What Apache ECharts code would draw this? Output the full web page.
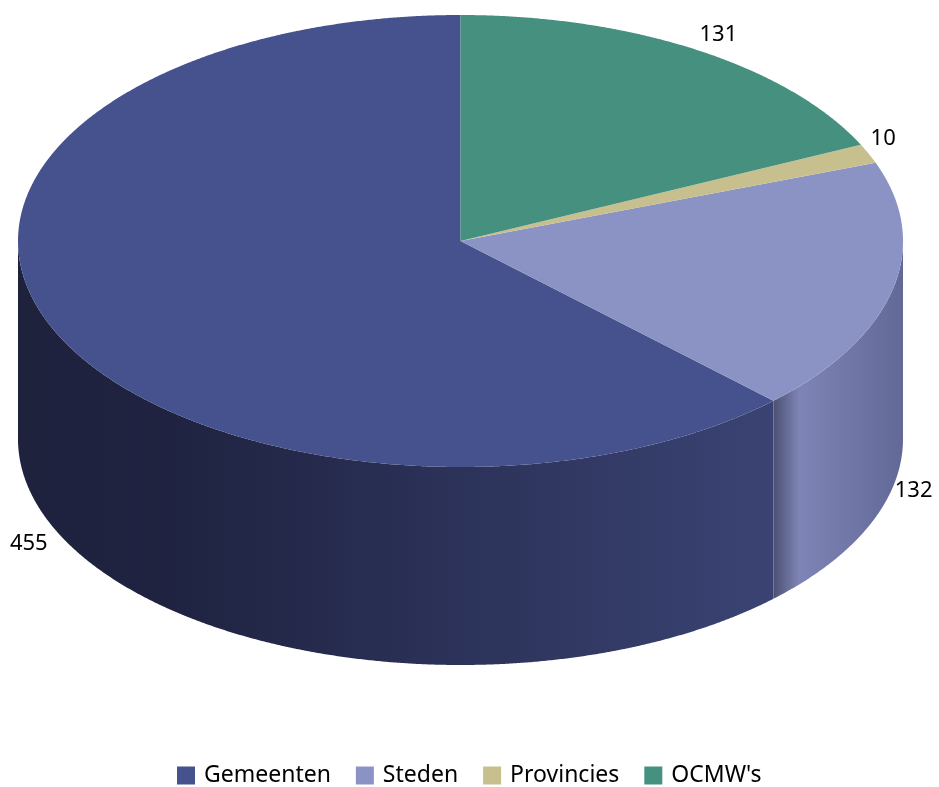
<!DOCTYPE html>
<html>
<head>
<meta charset="utf-8">
<script src="https://cdn.jsdelivr.net/npm/echarts@6/dist/echarts.min.js"></script>
<style>
  html, body { margin: 0; padding: 0; background: #fff; }
  #chart { width: 939px; height: 787px; }
</style>
</head>
<body>
<div id="chart"></div>
<script>
// Categories and counts (legend order)
const categories = ['Gemeenten', 'Steden', 'Provincies', "OCMW's"];
const values = [455, 132, 10, 131];

// Top-face colours and side-wall shading per category
const topColors = ['#45528e', '#8b93c4', '#c8bf8e', '#46907f'];
const sideStops = [
  [[0, '#1e223d'], [0.2, '#1f2341'], [1, '#3a4373']],
  [[0, '#4c5172'], [0.2, '#7e85b6'], [1, '#626997']],
  [[0, '#8f8860'], [1, '#a9a176']],
  [[0, '#2c5e52'], [1, '#3a7a6b']]
];

// Geometry of the tilted disc
const CX = 460.5, CY = 241, RX = 442.5, RY = 226, DEPTH = 198;
const K = RY / RX;

const total = values.reduce((a, b) => a + b, 0);

// Slices run clockwise from 12 o'clock in reverse legend order
const drawOrder = [3, 2, 1, 0];
const ranges = new Array(values.length);
let acc = 0;
drawOrder.forEach(i => { ranges[i] = [acc, acc + values[i]]; acc += values[i]; });

function renderSlice(params, api) {
  const i = params.seriesIndex;
  const a0 = api.value(0), a1 = api.value(1);
  const c = api.coord([0, 0]);
  const pt = (v, r) => {
    const p = api.coord([r, v]);
    return [p[0], c[1] + (p[1] - c[1]) * K];
  };
  const arc = (from, to) => {
    const n = Math.max(2, Math.ceil((to - from) / 0.5));
    const out = [];
    for (let s = 0; s <= n; s++) out.push(pt(from + (to - from) * s / n, 1));
    return out;
  };
  const children = [];

  // Outer wall for the part of the rim facing the viewer
  const f0 = Math.max(a0, total / 4), f1 = Math.min(a1, total * 3 / 4);
  if (f1 > f0) {
    const rim = arc(f0, f1);
    const lower = rim.slice().reverse().map(p => [p[0], p[1] + DEPTH]);
    const xs = rim.map(p => p[0]);
    const xMin = Math.min.apply(null, xs), xMax = Math.max.apply(null, xs);
    children.push({
      type: 'polygon',
      shape: { points: rim.concat(lower) },
      style: {
        fill: new echarts.graphic.LinearGradient(xMin, 0, xMax, 0,
          sideStops[i].map(s => ({ offset: s[0], color: s[1] })), true)
      }
    });
  }

  // Top face
  children.push({
    type: 'polygon',
    shape: { points: [[c[0], c[1]]].concat(arc(a0, a1)) },
    style: { fill: topColors[i] }
  });

  // Value label just outside the rim
  const mid = (a0 + a1) / 2;
  const theta = mid / total * Math.PI * 2;
  const p = pt(mid, 1);
  const front = mid > total / 4 && mid < total * 3 / 4;
  if (front) p[1] += DEPTH;
  const right = Math.sin(theta) >= 0;
  children.push({
    type: 'text',
    x: right ? p[0] + 2 : p[0] - 4,
    y: Math.cos(theta) > 0 ? p[1] - 15 : p[1] + (right ? 3 : 18),
    style: {
      text: String(values[i]),
      fill: '#000',
      font: '22px "Noto Sans"',
      align: right ? 'left' : 'right',
      verticalAlign: 'middle'
    }
  });

  return { type: 'group', children };
}

const chart = echarts.init(document.getElementById('chart'), null, { renderer: 'canvas' });

chart.setOption({
  animation: false,
  polar: { center: [CX, CY], radius: RX },
  angleAxis: { min: 0, max: total, startAngle: 90, clockwise: true, show: false },
  radiusAxis: { min: 0, max: 1, show: false },
  legend: {
    left: 172,
    top: 759,
    itemWidth: 18,
    itemHeight: 18,
    itemGap: 25,
    icon: 'rect',
    textStyle: { fontSize: 23, fontFamily: 'Noto Sans', color: '#000', padding: [0, 0, 0, 4] },
    data: categories
  },
  series: categories.map((name, i) => ({
    type: 'custom',
    name: name,
    coordinateSystem: 'polar',
    itemStyle: { color: topColors[i] },
    renderItem: renderSlice,
    data: [ranges[i]]
  }))
});
</script>
</body>
</html>
